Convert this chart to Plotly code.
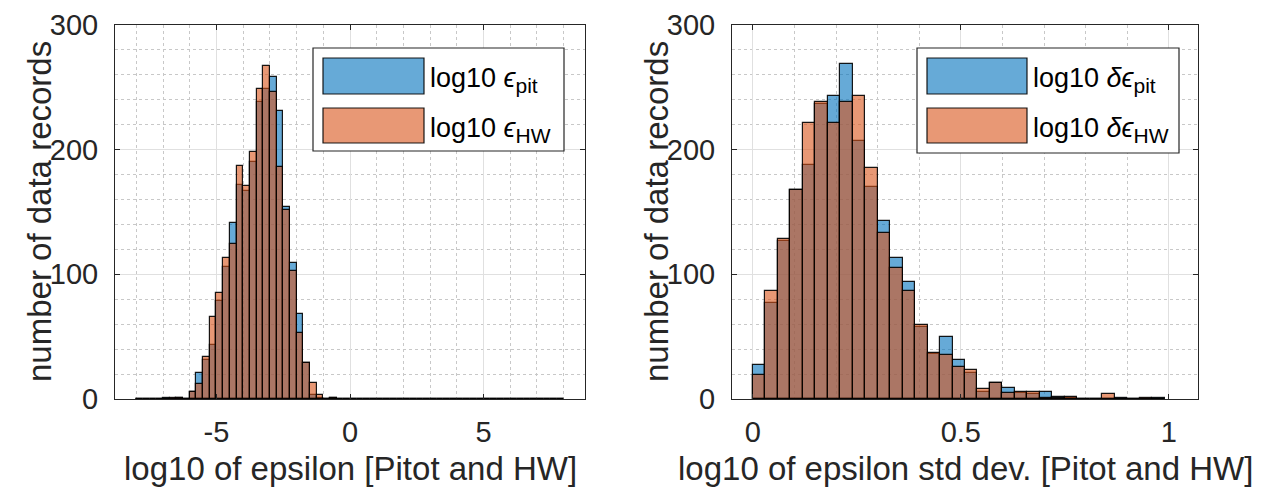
import plotly.graph_objects as go

W, H = 1265, 494

# ---- data: histogram counts ----
# left panel: log10 epsilon, bins of 0.25 from -8 to 8 (64 bins)
eps_bin_start = -8.0
eps_bin_width = 0.25
eps_pit_counts = [0, 0, 0, 0, 1, 0, 1, 0,
                  6, 21, 31, 43, 79, 106, 141, 172,
                  167, 190, 238, 249, 258, 231, 154, 109,
                  68, 29, 3, 1, 0, 1, 0, 0] + [0] * 32
eps_hw_counts = [0, 0, 0, 0, 0, 1, 1, 0,
                 6, 12, 34, 66, 85, 113, 124, 187,
                 171, 198, 249, 267, 246, 186, 152, 103,
                 53, 29, 13, 3, 0, 1, 0, 0] + [0] * 32

# right panel: log10 epsilon std dev, bins of 0.03 from 0 to 0.99 (33 bins)
std_bin_start = 0.0
std_bin_width = 0.03
std_pit_counts = [27, 77, 127, 168, 188, 237, 243, 269, 207, 170, 143,
                  113, 94, 58, 36, 50, 31, 21, 6, 13, 9, 5,
                  4, 6, 2, 1, 0, 0, 0, 1, 0, 0, 1]
std_hw_counts = [19, 87, 128, 168, 221, 238, 221, 238, 243, 185, 133,
                 105, 87, 59, 37, 35, 26, 23, 8, 13, 5, 6,
                 6, 1, 1, 2, 0, 0, 4, 0, 0, 1, 0]

left_ticks = [-5, 0, 5]
left_ticktext = ["-5", "0", "5"]
right_ticks = [0, 0.5, 1]
right_ticktext = ["0", "0.5", "1"]
y_ticks = [0, 100, 200, 300]

# ---- styling ----
BLUE = "rgba(0,114,189,0.6)"
ORANGE = "rgba(217,83,25,0.6)"
EDGE = "rgba(0,0,0,0.9)"
TXT = "#262626"
FONT = "Liberation Sans, Arial, sans-serif"


def centers(start, width, n):
    return [start + width * (i + 0.5) for i in range(n)]


def px_x(x):
    return x / W


def px_y(y):
    return 1 - y / H


fig = go.Figure()

for counts, color, xa, ya, start, width in [
    (eps_pit_counts, BLUE, "x", "y", eps_bin_start, eps_bin_width),
    (eps_hw_counts, ORANGE, "x", "y", eps_bin_start, eps_bin_width),
    (std_pit_counts, BLUE, "x2", "y2", std_bin_start, std_bin_width),
    (std_hw_counts, ORANGE, "x2", "y2", std_bin_start, std_bin_width),
]:
    fig.add_bar(
        x=centers(start, width, len(counts)),
        y=counts,
        width=width,
        marker=dict(color=color, line=dict(color=EDGE, width=1.2)),
        xaxis=xa,
        yaxis=ya,
        showlegend=False,
        hoverinfo="skip",
    )

axis_common = dict(
    automargin=False,
    showline=True,
    linecolor=TXT,
    linewidth=1,
    mirror="ticks",
    ticks="inside",
    ticklen=5,
    tickcolor=TXT,
    showgrid=True,
    gridcolor="#e0e0e0",
    gridwidth=1,
    zeroline=False,
    tickfont=dict(family=FONT, size=29, color=TXT),
)
minor_common = dict(showgrid=True, griddash="dot", gridcolor="#c8c8c8", ticks="")

y_dom = [px_y(399), px_y(25)]
left_dom = [115, 585]
right_dom = [732, 1198]

fig.update_layout(
    width=W,
    height=H,
    margin=dict(l=0, r=0, t=0, b=0),
    paper_bgcolor="white",
    plot_bgcolor="white",
    barmode="overlay",
    bargap=0,
    xaxis=dict(
        axis_common,
        domain=[px_x(left_dom[0]), px_x(left_dom[1])],
        range=[-8.8, 8.8],
        tickvals=left_ticks,
        ticktext=left_ticktext,
        ticklabelstandoff=7,
        minor=dict(minor_common, dtick=1, tick0=0),
    ),
    yaxis=dict(
        axis_common,
        domain=y_dom,
        range=[0, 300],
        tickvals=y_ticks,
        ticklabelstandoff=10,
        minor=dict(minor_common, dtick=20),
    ),
    xaxis2=dict(
        axis_common,
        domain=[px_x(right_dom[0]), px_x(right_dom[1])],
        range=[-0.05, 1.07],
        tickvals=right_ticks,
        ticktext=right_ticktext,
        ticklabelstandoff=7,
        anchor="y2",
        minor=dict(minor_common, dtick=0.1, tick0=0),
    ),
    yaxis2=dict(
        axis_common,
        domain=y_dom,
        range=[0, 300],
        tickvals=y_ticks,
        ticklabelstandoff=10,
        anchor="x2",
        minor=dict(minor_common, dtick=20),
    ),
)

# ---- axis titles ----
title_font = dict(family=FONT, size=33, color=TXT)
for (dx0, dx1), xtitle, ytitle_x in [
    (left_dom, "log10 of epsilon [Pitot and HW]", 39),
    (right_dom, "log10 of epsilon std dev. [Pitot and HW]", 656),
]:
    fig.add_annotation(xref="paper", yref="paper",
                       x=px_x((dx0 + dx1) / 2), y=px_y(468),
                       xanchor="center", yanchor="middle",
                       text=xtitle, showarrow=False, font=title_font)
    fig.add_annotation(xref="paper", yref="paper",
                       x=px_x(ytitle_x), y=px_y(212),
                       xanchor="center", yanchor="middle", textangle=-90,
                       text="number of data records", showarrow=False,
                       font=title_font)

# ---- legends drawn as boxes with big patches, like the MATLAB ones ----
SUB = '<sub><span style="font-size:21px">%s</span></sub>'
legends = [
    # box (x0, y0, x1, y1), patch x0, patch x1, text x, labels
    ((313, 48, 564, 151), 323, 424, 428,
     ["log10 <i>ϵ</i>" + SUB % "pit", "log10 <i>ϵ</i>" + SUB % "HW"]),
    ((917, 48, 1179, 153), 927, 1027, 1031,
     ["log10 <i>δϵ</i>" + SUB % "pit", "log10 <i>δϵ</i>" + SUB % "HW"]),
]
for (bx0, by0, bx1, by1), p0, p1, tx, labels in legends:
    fig.add_shape(type="rect", xref="paper", yref="paper",
                  x0=px_x(bx0), x1=px_x(bx1), y0=px_y(by1), y1=px_y(by0),
                  fillcolor="white", line=dict(color=TXT, width=1.2),
                  layer="above")
    for (py0, py1), color, label in zip([(58, 94), (108, 143)],
                                        [BLUE, ORANGE], labels):
        fig.add_shape(type="rect", xref="paper", yref="paper",
                      x0=px_x(p0), x1=px_x(p1), y0=px_y(py1), y1=px_y(py0),
                      fillcolor=color, line=dict(color=EDGE, width=1.2),
                      layer="above")
        fig.add_annotation(xref="paper", yref="paper",
                           x=px_x(tx), y=px_y((py0 + py1) / 2 + 4),
                           xanchor="left", yanchor="middle",
                           text=label, showarrow=False,
                           font=dict(family=FONT, size=27, color="black"))

fig.write_html("out.html", config={"displayModeBar": False},
               post_script="document.body.style.margin='0';")
